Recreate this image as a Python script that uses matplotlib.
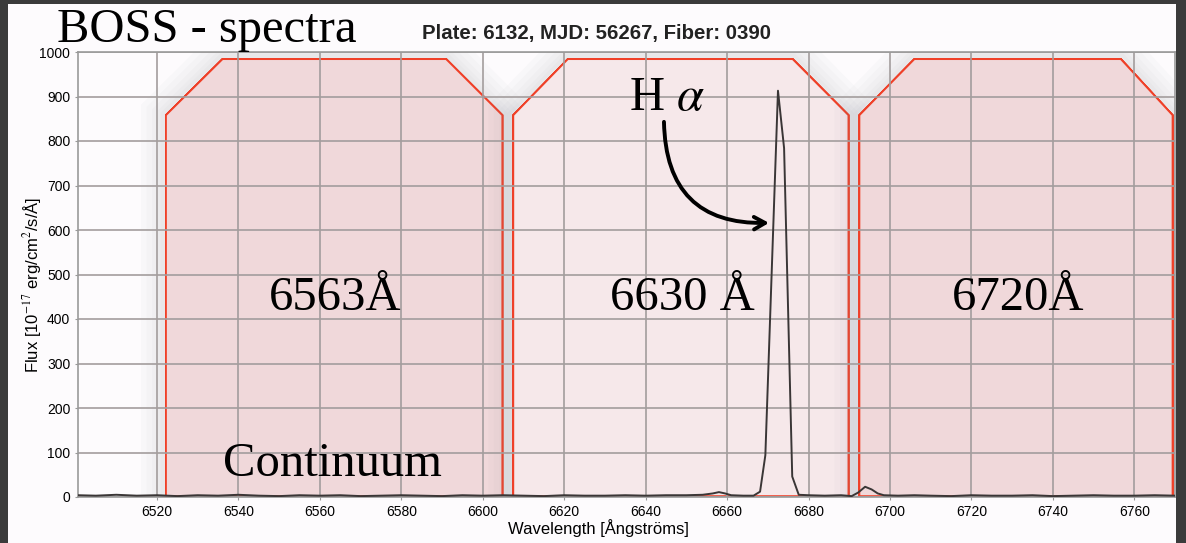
"""
BOSS spectrum around H-alpha with the three narrow-band filter windows.
"""

import matplotlib
matplotlib.use('Agg')
import matplotlib.pyplot as plt
from matplotlib.patches import Polygon, Rectangle
import matplotlib.patheffects as pe

plt.rcParams['mathtext.fontset'] = 'stix'

# Spectrum samples (wavelength in Angstrom, flux in 1e-17 erg/cm^2/s/A)
wave = [6500.6, 6505, 6510, 6515, 6520, 6525, 6530, 6535, 6540, 6545,
        6550, 6555, 6560, 6565, 6570, 6575, 6580, 6585, 6590, 6595,
        6600, 6605, 6610, 6615, 6620, 6625, 6630, 6635, 6640, 6645,
        6650, 6654, 6656.5, 6658.0, 6659.5, 6661, 6664, 6666.5, 6668.1,
        6669.4, 6672.5, 6674.0, 6676.0, 6677.6, 6680, 6684, 6688,
        6690.6, 6692.2, 6693.9, 6695.5, 6697, 6698.5, 6702, 6706, 6710,
        6715, 6720, 6725, 6730, 6735, 6740, 6745, 6750, 6755, 6760,
        6765, 6770]
flux = [4, 3, 5, 3, 4, 2, 4, 3, 5, 3,
        2, 4, 3, 4, 2, 3, 4, 3, 2, 4,
        3, 4, 3, 2, 4, 3, 3, 4, 3, 4,
        4, 5, 8, 11, 8, 4, 3, 3, 12,
        94, 913, 784, 46, 5, 4, 3, 4,
        2, 10, 23, 17, 8, 4, 3, 4, 3,
        2, 4, 3, 3, 4, 2, 3, 4, 3, 3,
        4, 3]

# Filter windows: base edges, flat-top edges, shoulder and top heights
filter_names = ['6563Å', '6630 Å', '6720Å']
filter_lo = [6522.2, 6607.5, 6692.5]
filter_hi = [6604.8, 6689.8, 6769.4]
filter_top_lo = [6536.1, 6620.9, 6706.0]
filter_top_hi = [6591.0, 6676.1, 6756.7]
filter_shoulder = 858
filter_top = 984
filter_base = 2
filter_colors = ['#f0d8da', '#f6e8ea', '#f0d8da']

x_ticks = list(range(6520, 6761, 20))
y_ticks = list(range(0, 1001, 100))

fig = plt.figure(figsize=(11.86, 5.43), dpi=100, facecolor='#3b3b3b')
# light page on top of the dark frame
fig.patches.append(Rectangle((8 / 1186, 0), 1168 / 1186, 539 / 543,
                             transform=fig.transFigure, facecolor='#fdfbfd',
                             edgecolor='none', zorder=-5))

ax = fig.add_axes([78 / 1186, 46 / 543, 1097 / 1186, 445 / 543])
ax.set_facecolor('#fdfbfd')
ax.set_xlim(6500.6, 6770)
ax.set_ylim(0, 1000)

glow = [pe.withStroke(linewidth=w, foreground='#8a8a96', alpha=0.035)
        for w in (36, 28, 20, 13, 8)]

for i in range(3):
    verts = [(filter_lo[i], filter_base), (filter_lo[i], filter_shoulder),
             (filter_top_lo[i], filter_top), (filter_top_hi[i], filter_top),
             (filter_hi[i], filter_shoulder), (filter_hi[i], filter_base)]
    poly = Polygon(verts, closed=True, facecolor=filter_colors[i],
                   edgecolor='#f04028', linewidth=1.3, zorder=1)
    poly.set_path_effects(glow + [pe.Normal()])
    ax.add_patch(poly)

ax.grid(True, color='#a39d9d', linewidth=1.2)
ax.set_xticks(x_ticks)
ax.set_yticks(y_ticks)
ax.tick_params(length=2, color='#999999', labelsize=10)
for lab in ax.get_xticklabels() + ax.get_yticklabels():
    lab.set_family('Liberation Sans')
for s in ax.spines.values():
    s.set_color('#9a9a9a')
    s.set_linewidth(1.2)

ax.plot(wave, flux, color='#3a3636', linewidth=1.4, zorder=3)

# filter labels
serif = 'Liberation Serif'
centers = [6563.7, 6648.9, 6731.4]
for name, cx in zip(filter_names, centers):
    ax.text(cx, 420, name, family=serif, fontsize=35, ha='center',
            va='baseline', zorder=4)
ax.text(6563.1, 47, 'Continuum', family=serif, fontsize=35, ha='center',
        va='baseline', zorder=4)

ax.text(6635.9, 870, r'H $\alpha$', family=serif, fontsize=35,
        ha='left', va='baseline', zorder=4)
ax.annotate('', xy=(6670.3, 616), xytext=(6644.5, 843),
            arrowprops=dict(arrowstyle='->,head_length=0.8,head_width=0.45',
                            connectionstyle='arc3,rad=0.5', lw=2.8,
                            color='black', shrinkA=0, shrinkB=0), zorder=4)

fig.text(57 / 1186, 1 - 41.5 / 543, 'BOSS - spectra', family=serif,
         fontsize=35, va='baseline')
fig.text(422 / 1186, 1 - 39 / 543, 'Plate: 6132, MJD: 56267, Fiber: 0390',
         family='Liberation Sans', fontweight='bold', fontsize=14.7,
         color='#222222', va='baseline')

fig.text(598 / 1186, 1 - 528 / 543, 'Wavelength [Ångströms]',
         family='Liberation Sans', fontsize=12, ha='center', va='center')
fig.text(33 / 1186, 1 - 285 / 543, r'Flux [10$^{-17}$ erg/cm$^2$/s/Å]',
         family='Liberation Sans', fontsize=12, ha='center', va='center',
         rotation=90)

fig.savefig('out.png', dpi=100, facecolor=fig.get_facecolor())
